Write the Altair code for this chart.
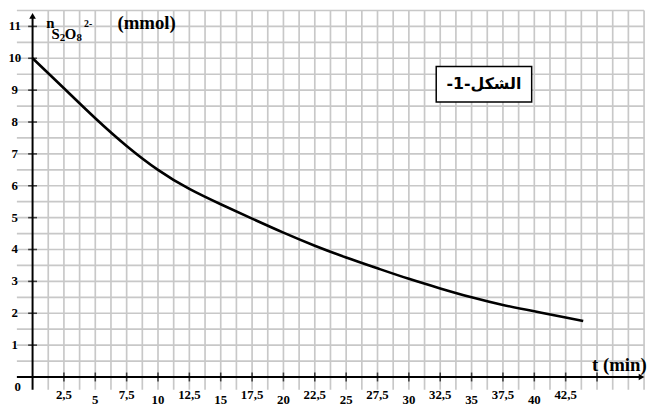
import altair as alt
import pandas as pd

# curve
t_values = [0, 2.5, 5, 7.5, 10, 12.5, 15, 17.5, 20, 22.5, 25, 27.5, 30, 32.5, 35, 37.5, 40, 42.5, 43.9]
n_values = [10, 9.06, 8.12, 7.25, 6.5, 5.9, 5.42, 4.97, 4.53, 4.12, 3.75, 3.41, 3.08, 2.78, 2.5, 2.26, 2.06, 1.87, 1.76]

x_tick_values = [2.5, 5, 7.5, 10, 12.5, 15, 17.5, 20, 22.5, 25, 27.5, 30, 32.5, 35, 37.5, 40, 42.5, 45]
x_tick_labels = ["2,5", "5", "7,5", "10", "12,5", "15", "17,5", "20", "22,5", "25", "27,5", "30",
                 "32,5", "35", "37,5", "40", "42,5", ""]
y_tick_values = [1, 2, 3, 4, 5, 6, 7, 8, 9, 10, 11]
y_tick_labels = ["1", "2", "3", "4", "5", "6", "7", "8", "9", "10", "11"]

X_DOMAIN = [-1.25, 48.75]
Y_DOMAIN = [-0.4, 11.5]
x_grid = [1.25 * k for k in range(1, 40)]
y_grid = [0.5 * k for k in range(1, 24)]

SERIF = "Liberation Serif, Times New Roman, serif"
GRID = "#c8c8c8"

xs = alt.Scale(domain=X_DOMAIN, nice=False, zero=False)
ys = alt.Scale(domain=Y_DOMAIN, nice=False, zero=False)


def X(field="t"):
    return alt.X(f"{field}:Q", scale=xs, axis=None)


def Y(field="n"):
    return alt.Y(f"{field}:Q", scale=ys, axis=None)


# grid
vgrid_df = pd.DataFrame({"t": x_grid, "n": [Y_DOMAIN[0]] * len(x_grid), "n2": [Y_DOMAIN[1]] * len(x_grid)})
hgrid_df = pd.DataFrame({"n": y_grid, "t": [X_DOMAIN[0]] * len(y_grid), "t2": [X_DOMAIN[1]] * len(y_grid)})
vgrid = alt.Chart(vgrid_df).mark_rule(color=GRID, strokeWidth=1.7).encode(x=X(), y=Y(), y2="n2:Q")
hgrid = alt.Chart(hgrid_df).mark_rule(color=GRID, strokeWidth=1.7).encode(x=X(), x2="t2:Q", y=Y())

# axes lines
yaxis_df = pd.DataFrame({"t": [0], "n": [-0.4], "n2": [11.3]})
yaxis = alt.Chart(yaxis_df).mark_rule(color="black", strokeWidth=2).encode(
    x=X(), y=Y(), y2="n2:Q")
xaxis_df = pd.DataFrame({"t": [-1.25], "t2": [48.6], "n": [0]})
xaxis = alt.Chart(xaxis_df).mark_rule(color="black", strokeWidth=2).encode(
    x=X(), x2="t2:Q", y=Y())

arrow_up = alt.Chart(pd.DataFrame({"t": [0], "n": [11.33]})).mark_point(
    shape="triangle-up", filled=True, color="black", size=45, opacity=1).encode(x=X(), y=Y())
arrow_right = alt.Chart(pd.DataFrame({"t": [48.55], "n": [0]})).mark_point(
    shape="triangle-right", filled=True, color="black", size=45, opacity=1).encode(x=X(), y=Y())

# tick marks
xt_df = pd.DataFrame({"t": x_tick_values, "n": [0] * len(x_tick_values), "lab": x_tick_labels})
yt_df = pd.DataFrame({"t": [0] * len(y_tick_values), "n": y_tick_values, "lab": y_tick_labels})
xticks = alt.Chart(xt_df).mark_tick(orient="vertical", color="black", size=9, thickness=1.6).encode(
    x=X(), y=Y())
yticks = alt.Chart(yt_df).mark_tick(orient="horizontal", color="black", size=9, thickness=1.6).encode(
    x=X(), y=Y())

# tick labels
half = [i for i, v in enumerate(x_tick_values) if v % 5 != 0]
whole = [i for i, v in enumerate(x_tick_values) if v % 5 == 0]
xl_half = alt.Chart(xt_df.iloc[half]).mark_text(
    font=SERIF, fontWeight="bold", fontSize=13, dy=18, baseline="middle", align="center").encode(
    x=X(), y=Y(), text="lab:N")
xl_whole = alt.Chart(xt_df.iloc[whole]).mark_text(
    font=SERIF, fontWeight="bold", fontSize=13, dy=23, baseline="middle", align="center").encode(
    x=X(), y=Y(), text="lab:N")
yl = alt.Chart(yt_df).mark_text(
    font=SERIF, fontWeight="bold", fontSize=13, dx=-18, baseline="middle", align="center").encode(
    x=X(), y=Y(), text="lab:N")
zero_lab = alt.Chart(pd.DataFrame({"t": [0], "n": [0], "lab": ["0"]})).mark_text(
    font=SERIF, fontWeight="bold", fontSize=13, dx=-15, dy=10, baseline="middle", align="center").encode(
    x=X(), y=Y(), text="lab:N")

# curve
curve_df = pd.DataFrame({"t": t_values, "n": n_values})
curve = alt.Chart(curve_df).mark_line(color="black", strokeWidth=2.6, interpolate="natural").encode(
    x=X(), y=Y())

# axis titles
title_df = pd.DataFrame({
    "lab": ["n", "S", "2", "O", "8", "2-", "(mmol)", "t (min)"],
    "t": [1.1, 1.5, 2.17, 2.56, 3.5, 4.1, 6.77, 44.6],
    "n": [10.95, 10.6, 10.53, 10.6, 10.53, 10.97, 10.91, 0.2],
    "size": [15, 15, 11, 15, 11, 10, 19, 19],
})
titles = alt.Chart(title_df).mark_text(
    font=SERIF, fontWeight="bold", align="left", baseline="alphabetic").encode(
    x=X(), y=Y(), text="lab:N", size=alt.Size("size:Q", scale=None, legend=None))

# figure label box
box_df = pd.DataFrame({"t": [32.18], "t2": [39.79], "n": [9.74], "n2": [8.63]})
box = alt.Chart(box_df).mark_rect(fill="white", stroke="black", strokeWidth=1.5).encode(
    x=X(), x2="t2:Q", y=Y(), y2="n2:Q")
box_text = alt.Chart(pd.DataFrame({"t": [35.98], "n": [9.18], "lab": ["-1-الشكل"]})).mark_text(
    font="DejaVu Sans", fontWeight="bold", fontSize=16, align="center", baseline="middle").encode(
    x=X(), y=Y(), text="lab:N")

chart = alt.layer(
    vgrid, hgrid, box, box_text, yaxis, xaxis, arrow_up, arrow_right, xticks, yticks,
    xl_half, xl_whole, yl, zero_lab, curve, titles
).properties(
    width=635, height=384,
    autosize=alt.AutoSizeParams(type="none"),
    padding={"left": 9, "top": 0, "right": 5, "bottom": 18},
).configure_view(stroke=None)

chart.save("out.html", embed_options={"renderer": "svg", "actions": False})
